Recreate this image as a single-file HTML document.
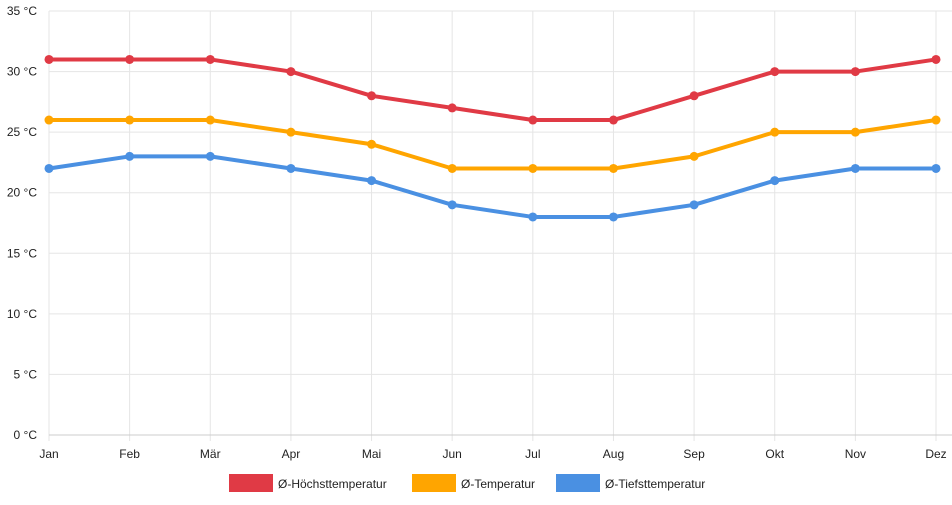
<!DOCTYPE html>
<html><head><meta charset="utf-8"><style>
body{margin:0;background:#fff;font-family:"Liberation Sans",sans-serif;}
svg text{font-family:"Liberation Sans",sans-serif;font-size:12px;fill:#222;}
</style></head><body>
<svg id="chart" width="952" height="500"></svg>
<script>
const categories=["Jan","Feb","Mär","Apr","Mai","Jun","Jul","Aug","Sep","Okt","Nov","Dez"];
const highTemps=[31,31,31,30,28,27,26,26,28,30,30,31];
const meanTemps=[26,26,26,25,24,22,22,22,23,25,25,26];
const lowTemps=[22,23,23,22,21,19,18,18,19,21,22,22];
const yTicks=[0,5,10,15,20,25,30,35];
const seriesNames=["Ø-Höchsttemperatur","Ø-Temperatur","Ø-Tiefsttemperatur"];
const seriesColors=["#e03a45","#ffa500","#4a90e2"];

const svg=document.getElementById('chart');
const NS="http://www.w3.org/2000/svg";
const x0=49,x1=936,yTop=11,yBot=435,yMax=35;
const xs=i=>x0+(x1-x0)*i/(categories.length-1);
const ys=v=>yBot-(yBot-yTop)*v/yMax;
function mk(tag,attrs,parent){const e=document.createElementNS(NS,tag);for(const k in attrs)e.setAttribute(k,attrs[k]);(parent||svg).appendChild(e);return e;}

const grid=mk('g',{});


yTicks.forEach(t=>{
  const l=mk('line',{x1:x0,x2:x1+16,y1:ys(t),y2:ys(t),stroke:'#e5e5e5'},grid);
  
  
  const tx=mk('text',{x:x0-12,y:ys(t)+4,'text-anchor':'end'});
  tx.textContent=t+" °C";
  
  
});
categories.forEach((c,i)=>{
  const l=mk('line',{x1:xs(i),x2:xs(i),y1:yTop,y2:yBot+6,stroke:'#e5e5e5'},grid);
  
  
  const tx=mk('text',{x:xs(i),y:458,'text-anchor':'middle'});
  tx.textContent=c;
  
  
});
const ax=mk('line',{x1:x0,x2:x1+16,y1:yBot,y2:yBot,stroke:'#ccc'});



[highTemps,meanTemps,lowTemps].forEach((data,s)=>{
  const g=mk('g',{});
  
  
  const p=mk('polyline',{points:data.map((v,i)=>xs(i)+","+ys(v)).join(" "),fill:'none',stroke:seriesColors[s],'stroke-width':4,'stroke-linejoin':'round'},g);
  
  
  data.forEach((v,i)=>{
    const c=mk('circle',{cx:xs(i),cy:ys(v),r:4.5,fill:seriesColors[s]},g);
    
    
  });
});

const legX=[229,412,556];
seriesNames.forEach((n,s)=>{
  const g=mk('g',{});
  
  
  mk('rect',{x:legX[s],y:474,width:44,height:18,fill:seriesColors[s]},g);
  const t=mk('text',{x:legX[s]+49,y:488},g);
  t.textContent=n;
});
</script>
</body></html>
